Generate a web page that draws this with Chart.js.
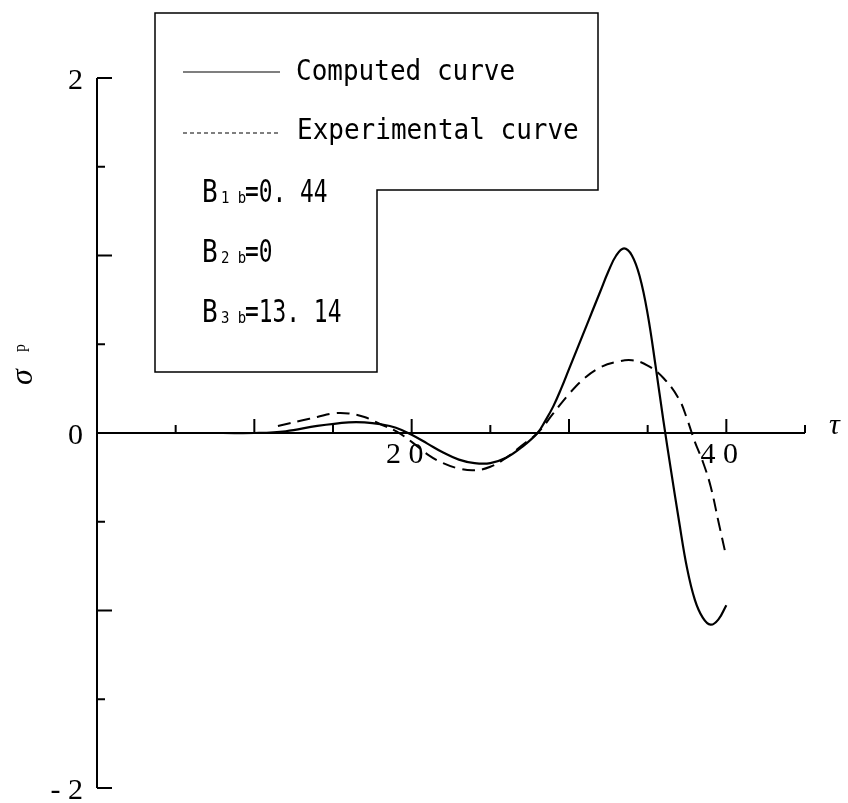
<!DOCTYPE html>
<html>
<head>
<meta charset="utf-8">
<title>σp response</title>
<script src="https://cdn.jsdelivr.net/npm/chart.js@4.4.1/dist/chart.umd.min.js"></script>
<style>
  html, body { margin: 0; padding: 0; background: #fff; }
  canvas { display: block; }
</style>
</head>
<body>
<canvas id="sigma-chart" width="848" height="803"></canvas>
<script>
// Computed curve (solid)
const tauComputed = [0, 4, 8, 10, 12, 14, 16, 17, 18, 19, 20, 21, 22, 23, 24, 25, 26, 27, 28, 28.5, 29, 29.5, 30, 30.5, 31, 31.5, 32, 32.5, 33, 33.5, 34, 34.5, 35, 35.5, 36, 36.5, 37, 37.5, 38, 38.5, 39, 39.5, 40];
const sigmaComputed = [0, 0, 0, 0, 0.01, 0.04, 0.06, 0.06, 0.05, 0.03, -0.01, -0.06, -0.11, -0.15, -0.17, -0.17, -0.14, -0.08, 0.0, 0.07, 0.15, 0.25, 0.36, 0.47, 0.58, 0.69, 0.8, 0.91, 1.0, 1.04, 1.0, 0.88, 0.67, 0.38, 0.07, -0.22, -0.5, -0.76, -0.94, -1.04, -1.08, -1.05, -0.97];

// Experimental curve (dashed)
const tauExperimental = [11.5, 13, 14, 15, 16, 17, 18, 19, 20, 21, 22, 23, 24, 25, 26, 27, 28, 29, 30, 31, 32, 33, 34, 35, 36, 37, 37.5, 38, 38.5, 39, 39.5, 40];
const sigmaExperimental = [0.04, 0.07, 0.09, 0.11, 0.11, 0.09, 0.05, 0.01, -0.05, -0.12, -0.17, -0.2, -0.21, -0.19, -0.14, -0.07, 0.0, 0.11, 0.22, 0.31, 0.37, 0.4, 0.41, 0.38, 0.31, 0.19, 0.08, -0.05, -0.16, -0.3, -0.5, -0.7];

// Axis ticks and labels
const xTickValues = [5, 10, 15, 20, 25, 30, 35, 40, 45];
const xLabelValues = [20, 40];
const yTickValues = [2, 1.5, 1, 0.5, -0.5, -1, -1.5, -2];
const yLabelValues = [2, 0, -2];

// Key text
const keyLines = ['Computed curve', 'Experimental curve'];
const keyParams = [['1 b', '=0. 44'], ['2 b', '=0'], ['3 b', '=13. 14']];

const ctx = document.getElementById('sigma-chart').getContext('2d');

function spaced(v) {
  // "20" -> "2 0", "-2" -> "- 2"
  return String(v).split('').join(' ');
}

// draws text squeezed sideways so it looks tall and narrow
function tallText(c, text, x, y, sx, sy) {
  c.save();
  c.translate(x, y);
  c.scale(sx, sy);
  c.fillText(text, 0, 0);
  c.restore();
}

const axesAndKey = {
  id: 'axesAndKey',
  afterDraw(chart) {
    const c = chart.ctx;
    const xs = chart.scales.x;
    const ys = chart.scales.y;
    const x0 = xs.getPixelForValue(0);
    const y0 = ys.getPixelForValue(0);

    c.save();
    c.strokeStyle = '#000';
    c.fillStyle = '#000';
    c.lineCap = 'butt';

    // vertical axis with inward ticks
    c.lineWidth = 2;
    c.beginPath();
    c.moveTo(x0, ys.getPixelForValue(2));
    c.lineTo(x0, ys.getPixelForValue(-2));
    yTickValues.forEach(v => {
      const py = ys.getPixelForValue(v);
      const len = Number.isInteger(v) ? 15 : 8;
      c.moveTo(x0, py);
      c.lineTo(x0 + len, py);
    });
    c.stroke();

    // horizontal axis at zero with upward ticks
    c.beginPath();
    c.moveTo(x0, y0);
    c.lineTo(xs.getPixelForValue(45), y0);
    xTickValues.forEach(v => {
      const px = xs.getPixelForValue(v);
      const len = v % 10 === 0 ? 14 : 8;
      c.moveTo(px, y0);
      c.lineTo(px, y0 - len);
    });
    c.stroke();

    // tick labels
    c.font = '30px "Liberation Serif", "DejaVu Serif", serif';
    c.textBaseline = 'middle';
    c.textAlign = 'right';
    yLabelValues.forEach(v => {
      const py = ys.getPixelForValue(v) + 3;
      c.fillText(spaced(v), x0 - 14, py);
    });
    c.textAlign = 'center';
    xLabelValues.forEach(v => {
      const px = xs.getPixelForValue(v) - 7;
      c.fillText(spaced(v), px, y0 + 22);
    });

    // axis titles
    c.font = 'italic 30px "Liberation Serif", "DejaVu Serif", serif';
    c.textAlign = 'left';
    c.fillText('τ', 829, y0 - 7);

    c.save();
    c.translate(24, 374);
    c.rotate(-Math.PI / 2);
    c.textAlign = 'left';
    c.font = 'italic 32px "Liberation Serif", "DejaVu Serif", serif';
    c.fillText('σ', -11, 0);
    c.font = '16px "Liberation Serif", "DejaVu Serif", serif';
    c.fillText('p', 22, -3);
    c.restore();

    // key box (stepped outline)
    c.lineWidth = 1.5;
    c.beginPath();
    c.moveTo(155, 13);
    c.lineTo(598, 13);
    c.lineTo(598, 190);
    c.lineTo(377, 190);
    c.lineTo(377, 372);
    c.lineTo(155, 372);
    c.closePath();
    c.stroke();

    // key samples
    c.lineWidth = 1.2;
    c.beginPath();
    c.moveTo(183, 72);
    c.lineTo(280, 72);
    c.stroke();
    c.setLineDash([4, 3]);
    c.beginPath();
    c.moveTo(183, 133);
    c.lineTo(280, 133);
    c.stroke();
    c.setLineDash([]);

    c.font = '26px "DejaVu Sans Mono", monospace';
    c.textAlign = 'left';
    tallText(c, keyLines[0], 296, 72, 1, 1.12);
    tallText(c, keyLines[1], 297, 131, 1, 1.12);

    // coefficient lines
    keyParams.forEach((p, i) => {
      const py = 194 + i * 60;
      c.font = '26px "DejaVu Sans Mono", monospace';
      tallText(c, 'B', 202, py, 1, 1.2);
      c.font = '14px "DejaVu Sans Mono", monospace';
      tallText(c, p[0], 221, py + 5, 1, 1.1);
      c.font = '26px "DejaVu Sans Mono", monospace';
      tallText(c, p[1], 245, py, 0.88, 1.2);
    });

    c.restore();
  }
};

const chart = new Chart(ctx, {
  type: 'line',
  data: {
    datasets: [
      {
        label: keyLines[0],
        data: tauComputed.map((t, i) => ({ x: t, y: sigmaComputed[i] })),
        borderColor: '#000',
        borderWidth: 2.2,
        pointRadius: 0,
        tension: 0.4,
        fill: false
      },
      {
        label: keyLines[1],
        data: tauExperimental.map((t, i) => ({ x: t, y: sigmaExperimental[i] })),
        borderColor: '#000',
        borderWidth: 2,
        borderDash: [13, 7],
        pointRadius: 0,
        tension: 0.4,
        fill: false
      }
    ]
  },
  options: {
    responsive: false,
    devicePixelRatio: 1,
    animation: false,
    layout: { padding: { left: 97, right: 43, top: 78, bottom: 15 } },
    plugins: { legend: { display: false }, tooltip: { enabled: false } },
    scales: {
      x: { type: 'linear', min: 0, max: 45, display: false },
      y: { type: 'linear', min: -2, max: 2, display: false }
    }
  },
  plugins: [axesAndKey]
});
</script>
</body>
</html>
